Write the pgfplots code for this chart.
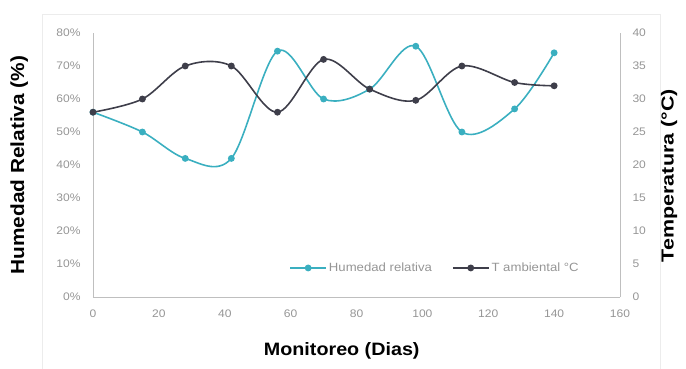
\documentclass[border=0pt]{standalone}
\usepackage{pgfplots}
\pgfplotsset{compat=1.18}
\usepackage{fontspec}
\setmainfont{Liberation Sans}[FakeStretch=1.1]
\definecolor{hum}{HTML}{3AAFC0}
\definecolor{tem}{HTML}{3E3E4A}
\definecolor{tick}{HTML}{959595}
\begin{document}
\begin{tikzpicture}[x=1bp,y=1bp]
\useasboundingbox (-93,-71) rectangle (593,297);
\draw[gray!15] (-51,-80) -- (-51,283) -- (567,283) -- (567,-80);
\begin{axis}[
  at={(0,0)}, anchor=south west,
  scale only axis, width=527bp, height=264bp,
  xmin=0, xmax=160, ymin=0, ymax=80,
  xtick={0,20,...,160}, ytick={0,10,...,80},
  yticklabel={\pgfmathprintnumber{\tick}\%},
  axis y line*=left, axis x line*=bottom,
  axis line style={gray!50, -},
  major tick length=0pt,
  tick label style={font=\fontsize{11}{13}\selectfont, text=tick},
  yticklabel style={xshift=-9bp},
  xticklabel style={yshift=-9bp},
  /pgf/number format/assume math mode=true,
  xlabel={\fontsize{18}{20}\selectfont\bfseries Monitoreo (Dias)},
  ylabel={\fontsize{19}{21}\selectfont\bfseries Humedad Relativa (\%)},
  xlabel style={at={(axis description cs:0.472,-0.205)}, anchor=center},
  ylabel style={at={(axis description cs:-0.140,0.5)}, anchor=center},
]
\addplot[hum, line width=1.6pt, smooth, tension=0.55, mark=*, mark size=2.6pt]
coordinates {(0,56) (15,50) (28,42) (42,42) (56,74.5) (70,60) (84,63) (98,76) (112,50) (128,57) (140,74)};
\end{axis}
\begin{axis}[
  at={(0,0)}, anchor=south west,
  scale only axis, width=527bp, height=264bp,
  xmin=0, xmax=160, ymin=0, ymax=40,
  ytick={0,5,...,40},
  axis y line*=right, axis x line=none,
  axis line style={gray!50, -},
  major tick length=0pt,
  tick label style={font=\fontsize{11}{13}\selectfont, text=tick},
  yticklabel style={xshift=9bp},
  /pgf/number format/assume math mode=true,
  ylabel={\fontsize{17.5}{20}\selectfont\bfseries\scalebox{1.12}[1]{Temperatura (°C)}},
  ylabel style={at={(axis description cs:1.093,0.46)}, anchor=center},
  legend style={at={(0.649,0.11)}, anchor=center, draw=none, fill=none,
    font=\fontsize{12}{13}\selectfont\color{tick}, legend columns=2,
    /tikz/every even column/.append style={column sep=18pt}},
  legend cell align=left,
  legend image code/.code={\draw[mark repeat=2,mark phase=2,#1] plot coordinates {(0bp,0bp) (18bp,0bp) (36bp,0bp)};},
]
\addlegendimage{hum, line width=1.6pt, mark=*, mark size=2.6pt}
\addlegendentry{Humedad relativa}
\addplot[tem, line width=1.6pt, smooth, tension=0.55, mark=*, mark size=2.6pt]
coordinates {(0,28) (15,30) (28,35) (42,35) (56,28) (70,36) (84,31.5) (98,29.8) (112,35) (128,32.5) (140,32)};
\addlegendentry{T ambiental °C}
\end{axis}
\end{tikzpicture}
\end{document}
